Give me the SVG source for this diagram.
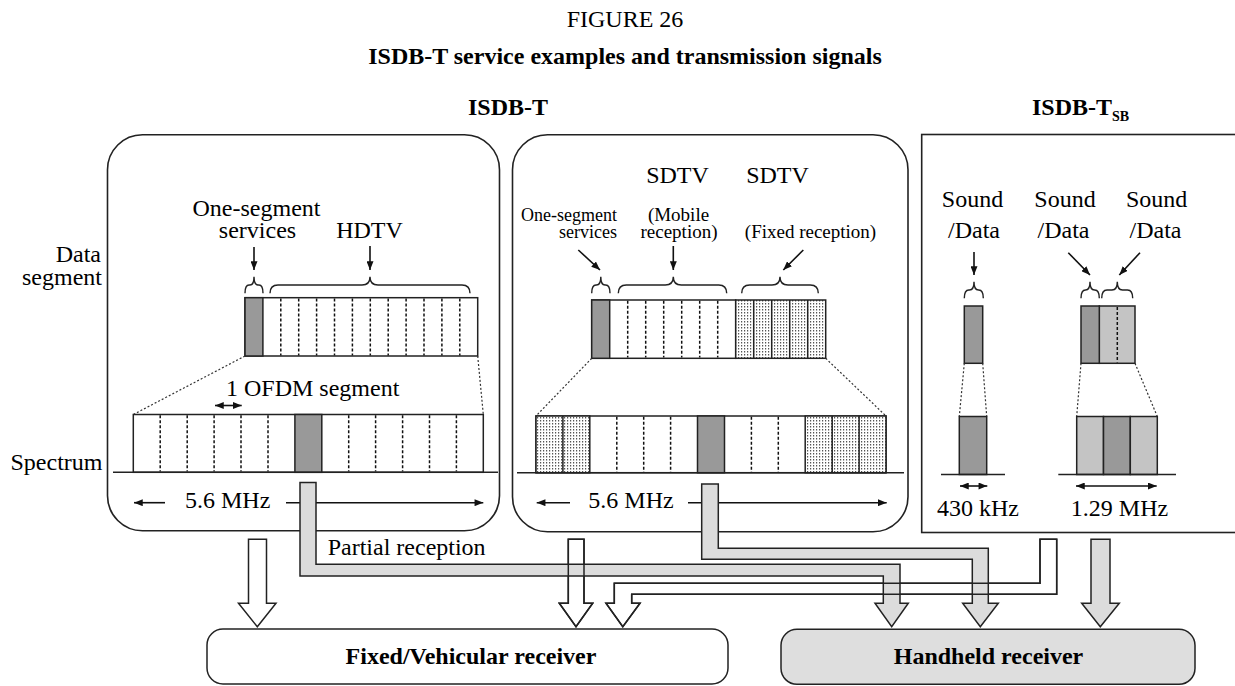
<svg xmlns="http://www.w3.org/2000/svg" width="1235" height="686" viewBox="0 0 1235 686">
<style>
text{font-family:"Liberation Serif","Times New Roman",serif;fill:#000}
.t24{font-size:24px}
.s19{font-size:19px}
.s18{font-size:18px}
.b{font-weight:bold}
.panel{fill:#fff;stroke:#222;stroke-width:1.6}
.box{stroke:#222;stroke-width:1.5}
.dk{fill:#999;stroke:#222;stroke-width:1.5}
.lt{fill:#c4c4c4;stroke:#222;stroke-width:1.5}
.wh{fill:#fff;stroke:#222;stroke-width:1.5}
.st{fill:url(#stip);stroke:#222;stroke-width:1.5}
.sep{stroke:#111;stroke-width:1.5;stroke-dasharray:3 2}
.sol{stroke:#222;stroke-width:1.5}
.dot{stroke:#333;stroke-width:1.2;stroke-dasharray:2 2;fill:none}
.brace{fill:none;stroke:#222;stroke-width:1.4}
.arr{stroke:#111;stroke-width:1.6;fill:none;marker-end:url(#ah)}
.dbl{stroke:#111;stroke-width:1.6;fill:none;marker-end:url(#ah);marker-start:url(#ah)}
.base{stroke:#222;stroke-width:1.5}
.pw{fill:#fff;stroke:#222;stroke-width:1.5}
.pg{fill:#dcdcdc;stroke:#222;stroke-width:1.5}
.outl{fill:none;stroke:#222;stroke-width:1.5}
</style>
<defs>
<marker id="ah" viewBox="0 0 10 8" refX="10" refY="4" markerWidth="9" markerHeight="7" markerUnits="userSpaceOnUse" orient="auto-start-reverse"><path d="M0,0 L10,4 L0,8 z" fill="#111"/></marker>
<pattern id="stip" width="3" height="3" patternUnits="userSpaceOnUse"><rect width="3" height="3" fill="#fff"/><rect width="1.2" height="1.5" fill="#555"/></pattern>
</defs>
<rect width="1235" height="686" fill="#fff"/>

<g id="titles">
<text x="625" y="27" class="t24" text-anchor="middle">FIGURE 26</text>
<text x="625" y="63.5" class="t24 b" text-anchor="middle">ISDB-T service examples and transmission signals</text>
<text x="508" y="114.5" class="t24 b" text-anchor="middle">ISDB-T</text>
<text x="1032" y="114.5" class="t24 b">ISDB-T<tspan font-size="14" dy="6">SB</tspan></text>
<text class="t24" text-anchor="end"><tspan x="101" y="261.7">Data</tspan><tspan x="102" y="285">segment</tspan></text>
<text x="102.5" y="470" class="t24" text-anchor="end">Spectrum</text>
</g>

<g id="panel-isdbt-hdtv">
<rect x="107.5" y="134.7" width="392" height="396" rx="35" class="panel"/>
<text class="t24" text-anchor="middle"><tspan x="256.5" y="216">One-segment</tspan><tspan x="257.5" y="238.3">services</tspan></text>
<text x="369.5" y="238.3" class="t24" text-anchor="middle">HDTV</text>
<line x1="254" y1="247" x2="254" y2="270" class="arr"/>
<line x1="370" y1="246" x2="370" y2="270" class="arr"/>
<path d="M245,293.3 Q245,285 249,285 L250,285 Q254,285 254,276.7 Q254,285 258,285 L259,285 Q263,285 263,293.3" class="brace"/>
<path d="M270,293.3 Q270,285 278,285 L362,285 Q370,285 370,276.7 Q370,285 378,285 L462,285 Q470,285 470,293.3" class="brace"/>
<rect x="245" y="297.7" width="232.7" height="58.3" class="wh"/>
<rect x="245" y="297.7" width="17.9" height="58.3" class="dk"/>
<g class="sep">
<line x1="280.8" y1="298.5" x2="280.8" y2="355.5"/><line x1="298.7" y1="298.5" x2="298.7" y2="355.5"/>
<line x1="316.6" y1="298.5" x2="316.6" y2="355.5"/><line x1="334.5" y1="298.5" x2="334.5" y2="355.5"/>
<line x1="352.4" y1="298.5" x2="352.4" y2="355.5"/><line x1="370.3" y1="298.5" x2="370.3" y2="355.5"/>
<line x1="388.2" y1="298.5" x2="388.2" y2="355.5"/><line x1="406.1" y1="298.5" x2="406.1" y2="355.5"/>
<line x1="424" y1="298.5" x2="424" y2="355.5"/><line x1="441.9" y1="298.5" x2="441.9" y2="355.5"/>
<line x1="459.8" y1="298.5" x2="459.8" y2="355.5"/>
</g>
<line x1="245" y1="356" x2="133.3" y2="414.5" class="dot"/>
<line x1="477.7" y1="356" x2="483.3" y2="414.5" class="dot"/>
<text x="226" y="396" class="t24">1 OFDM segment</text>
<line x1="215" y1="405.5" x2="241.7" y2="405.5" class="dbl"/>
<rect x="133.3" y="414.5" width="350" height="57.8" class="wh"/>
<rect x="294.9" y="414.5" width="26.9" height="57.8" class="dk"/>
<g class="sep">
<line x1="160.2" y1="415.3" x2="160.2" y2="471.5"/><line x1="187.2" y1="415.3" x2="187.2" y2="471.5"/>
<line x1="214.1" y1="415.3" x2="214.1" y2="471.5"/><line x1="241" y1="415.3" x2="241" y2="471.5"/>
<line x1="268" y1="415.3" x2="268" y2="471.5"/><line x1="348.7" y1="415.3" x2="348.7" y2="471.5"/>
<line x1="375.6" y1="415.3" x2="375.6" y2="471.5"/><line x1="402.6" y1="415.3" x2="402.6" y2="471.5"/>
<line x1="429.5" y1="415.3" x2="429.5" y2="471.5"/><line x1="456.4" y1="415.3" x2="456.4" y2="471.5"/>
</g>
<line x1="113" y1="472.3" x2="498" y2="472.3" class="base"/>
<text x="185" y="508.3" class="t24">5.6 MHz</text>
<line x1="165" y1="502.7" x2="134" y2="502.7" class="arr"/>
<line x1="286" y1="502.7" x2="483.3" y2="502.7" class="arr"/>
</g>

<g id="panel-isdbt-sdtv">
<rect x="512.5" y="134.7" width="395.5" height="397" rx="35" class="panel"/>
<text x="677.5" y="183" class="t24" text-anchor="middle">SDTV</text>
<text x="777.5" y="183" class="t24" text-anchor="middle">SDTV</text>
<text class="s18" text-anchor="end"><tspan x="617" y="220.5">One-segment</tspan><tspan x="617" y="238.3">services</tspan></text>
<text class="s19" text-anchor="middle"><tspan x="678.5" y="220.5">(Mobile</tspan><tspan x="679" y="238.3">reception)</tspan></text>
<text x="810.5" y="238.3" class="s19" text-anchor="middle">(Fixed reception)</text>
<line x1="578.3" y1="250" x2="600" y2="270" class="arr"/>
<line x1="673.3" y1="246" x2="673.3" y2="270" class="arr"/>
<line x1="803.3" y1="250" x2="783.3" y2="270" class="arr"/>
<path d="M591.7,293.3 Q591.7,285 596,285 L596.5,285 Q600.8,285 600.8,276.7 Q600.8,285 605,285 L605.7,285 Q610,285 610,293.3" class="brace"/>
<path d="M618.3,293.3 Q618.3,285 626.3,285 L665.3,285 Q673.3,285 673.3,276.7 Q673.3,285 681.3,285 L718.7,285 Q726.7,285 726.7,293.3" class="brace"/>
<path d="M741.7,293.3 Q741.7,285 749.7,285 L772,285 Q780,285 780,276.7 Q780,285 788,285 L810.3,285 Q818.3,285 818.3,293.3" class="brace"/>
<rect x="591.7" y="300" width="144" height="58.3" class="wh"/>
<rect x="591.7" y="300" width="18" height="58.3" class="dk"/>
<rect x="735.7" y="300" width="90" height="58.3" class="st"/>
<g class="sep">
<line x1="627.7" y1="300.8" x2="627.7" y2="357.5"/><line x1="645.7" y1="300.8" x2="645.7" y2="357.5"/>
<line x1="663.7" y1="300.8" x2="663.7" y2="357.5"/><line x1="681.7" y1="300.8" x2="681.7" y2="357.5"/>
<line x1="699.7" y1="300.8" x2="699.7" y2="357.5"/><line x1="717.7" y1="300.8" x2="717.7" y2="357.5"/>
</g>
<g class="sol">
<line x1="753.7" y1="300" x2="753.7" y2="358.3"/><line x1="771.7" y1="300" x2="771.7" y2="358.3"/>
<line x1="789.7" y1="300" x2="789.7" y2="358.3"/><line x1="807.7" y1="300" x2="807.7" y2="358.3"/>
</g>
<line x1="591.7" y1="358.3" x2="536" y2="416" class="dot"/>
<line x1="825.7" y1="358.3" x2="886" y2="416" class="dot"/>
<rect x="536" y="416" width="350" height="56.7" class="wh"/>
<rect x="536" y="416" width="53.8" height="56.7" class="st"/>
<rect x="805.2" y="416" width="80.8" height="56.7" class="st"/>
<rect x="697.5" y="416" width="27" height="56.7" class="dk"/>
<g class="sol">
<line x1="562.9" y1="416" x2="562.9" y2="472.7"/><line x1="832.2" y1="416" x2="832.2" y2="472.7"/>
<line x1="859.1" y1="416" x2="859.1" y2="472.7"/>
</g>
<g class="sep">
<line x1="616.8" y1="416.8" x2="616.8" y2="472"/><line x1="643.7" y1="416.8" x2="643.7" y2="472"/>
<line x1="670.6" y1="416.8" x2="670.6" y2="472"/><line x1="751.4" y1="416.8" x2="751.4" y2="472"/>
<line x1="778.3" y1="416.8" x2="778.3" y2="472"/>
</g>
<line x1="517" y1="472.7" x2="904" y2="472.7" class="base"/>
<text x="588.3" y="508.3" class="t24">5.6 MHz</text>
<line x1="570" y1="502.7" x2="536.7" y2="502.7" class="arr"/>
<line x1="688" y1="502.7" x2="886.7" y2="502.7" class="arr"/>
</g>

<g id="panel-isdbtsb">
<rect x="921.7" y="134.5" width="330" height="398" class="panel"/>
<text class="t24" text-anchor="middle"><tspan x="972.5" y="207.3">Sound</tspan><tspan x="974" y="238.3">/Data</tspan></text>
<text class="t24" text-anchor="middle"><tspan x="1065" y="207.3">Sound</tspan><tspan x="1063.5" y="238.3">/Data</tspan></text>
<text class="t24" text-anchor="middle"><tspan x="1156.7" y="207.3">Sound</tspan><tspan x="1155.5" y="238.3">/Data</tspan></text>
<line x1="974" y1="252" x2="974" y2="275" class="arr"/>
<line x1="1068.3" y1="252.7" x2="1090" y2="275" class="arr"/>
<line x1="1140" y1="252.7" x2="1119.3" y2="275" class="arr"/>
<path d="M964.3,298.3 Q964.3,290 968.8,290 L969.5,290 Q974,290 974,281.7 Q974,290 978.5,290 L978.8,290 Q983.3,290 983.3,298.3" class="brace"/>
<path d="M1081,298.3 Q1081,290 1085.5,290 Q1090,290 1090,281.7 Q1090,290 1094.5,290 L1094.8,290 Q1099.3,290 1099.3,298.3" class="brace"/>
<path d="M1101.7,298.3 Q1101.7,290 1107,290 L1112,290 Q1117.3,290 1117.3,281.7 Q1117.3,290 1122.5,290 L1127.5,290 Q1132.7,290 1132.7,298.3" class="brace"/>
<rect x="964.3" y="306" width="18.4" height="57.3" class="dk"/>
<rect x="1099.3" y="306" width="35.7" height="57.3" class="lt"/>
<rect x="1081" y="306" width="18.3" height="57.3" class="dk"/>
<line x1="1117.3" y1="307" x2="1117.3" y2="362.5" class="sep"/>
<line x1="964.3" y1="363.3" x2="959.3" y2="416.5" class="dot"/>
<line x1="982.7" y1="363.3" x2="986.7" y2="416.5" class="dot"/>
<line x1="1081" y1="363.3" x2="1076.7" y2="416.5" class="dot"/>
<line x1="1135" y1="363.3" x2="1157.3" y2="416.5" class="dot"/>
<rect x="959.3" y="416.5" width="27.4" height="58" class="dk"/>
<rect x="1076.7" y="416.5" width="26.8" height="58" class="lt"/>
<rect x="1103.5" y="416.5" width="26.8" height="58" class="dk"/>
<rect x="1130.3" y="416.5" width="27" height="58" class="lt"/>
<line x1="941" y1="474.5" x2="1005" y2="474.5" class="base"/>
<line x1="1058.3" y1="474.5" x2="1176" y2="474.5" class="base"/>
<line x1="960" y1="486" x2="987.3" y2="486" class="dbl"/>
<line x1="1076" y1="486" x2="1156.7" y2="486" class="dbl"/>
<text x="978" y="516" class="t24" text-anchor="middle">430 kHz</text>
<text x="1119.5" y="516" class="t24" text-anchor="middle">1.29 MHz</text>
</g>

<g id="connectors">
<polygon points="248.5,539.3 266.5,539.3 266.5,603.3 276,603.3 257.3,626.7 238.5,603.3 248.5,603.3" class="pw"/>
<polygon points="568.3,539.3 584,539.3 584,603.3 592.7,603.3 576,626.7 559.3,603.3 568.3,603.3" class="pw"/>
<polygon points="1040,539.3 1056.7,539.3 1056.7,594.3 631.7,594.3 631.7,603.3 640,603.3 622.8,626.7 606,603.3 614.3,603.3 614.3,583.3 1040,583.3" class="pw"/>
<polygon points="300,482.5 316,482.5 316,564.3 900,564.3 900,603.3 908.3,603.3 891.7,626.7 875,603.3 883.3,603.3 883.3,576 300,576" class="pg"/>
<polygon points="701.7,484 718.3,484 718.3,548.3 988.3,548.3 988.3,603.3 998.3,603.3 980.3,626.7 962.7,603.3 972.3,603.3 972.3,559.3 701.7,559.3" class="pg"/>
<polygon points="1091,539.3 1110,539.3 1110,603.3 1119.3,603.3 1100.3,626.7 1081.7,603.3 1091,603.3" class="pg"/>
<polygon points="568.3,539.3 584,539.3 584,603.3 592.7,603.3 576,626.7 559.3,603.3 568.3,603.3" class="outl"/>
<polygon points="1040,539.3 1056.7,539.3 1056.7,594.3 631.7,594.3 631.7,603.3 640,603.3 622.8,626.7 606,603.3 614.3,603.3 614.3,583.3 1040,583.3" class="outl"/>
<text x="327.7" y="555" class="t24">Partial reception</text>
</g>

<g id="receiver-fixed">
<rect x="207" y="629" width="521" height="55" rx="16" fill="#fff" class="box"/>
<text x="471" y="663.5" class="t24 b" text-anchor="middle">Fixed/Vehicular receiver</text>
</g>
<g id="receiver-handheld">
<rect x="781" y="629.3" width="414" height="55" rx="16" fill="#dedede" class="box"/>
<text x="988.5" y="663.5" class="t24 b" text-anchor="middle">Handheld receiver</text>
</g>
</svg>
